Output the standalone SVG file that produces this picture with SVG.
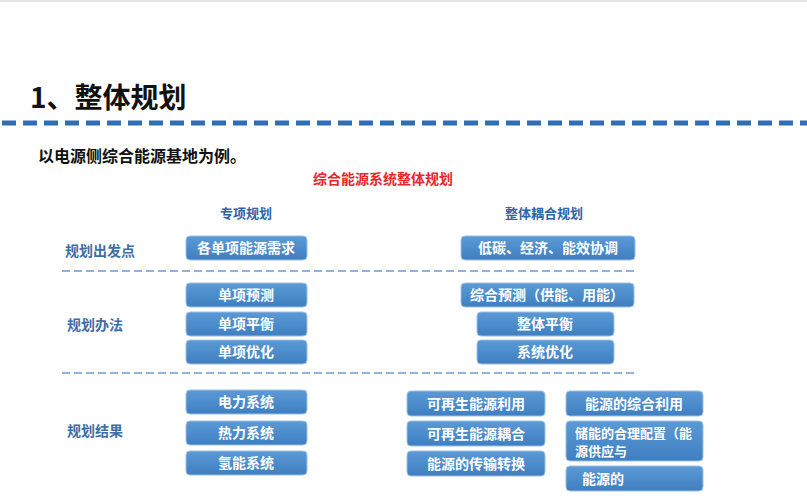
<svg xmlns="http://www.w3.org/2000/svg" width="807" height="500" viewBox="0 0 807 500">
<defs>
<linearGradient id="g" x1="0" y1="0" x2="0" y2="1"><stop offset="0" stop-color="#5b9ad6"/><stop offset="1" stop-color="#3f7fc0"/></linearGradient>
<style>
text{font-family:"Noto Sans CJK SC","Liberation Sans",sans-serif;font-weight:bold}
.b{fill:url(#g);stroke:#9cc0e6;stroke-width:1}
.t{fill:#fff;font-size:14px;text-anchor:middle}
.r{fill:#3d6ea8;font-size:14px}
.h{fill:#2e64a8;font-size:13px;text-anchor:middle}
.sep{stroke:#8fb4e0;stroke-width:2;stroke-dasharray:8 4}
</style>
</defs>
<rect width="807" height="500" fill="#fff"/>
<line x1="0" y1="1" x2="807" y2="1" stroke="#ccc"/>
<text x="30" y="108" font-size="28" fill="#111">1、整体规划</text>
<line x1="2" y1="123" x2="807" y2="123" stroke="#2f6db5" stroke-width="5" stroke-dasharray="14 7"/>
<text x="38" y="162" font-size="16" fill="#111">以电源侧综合能源基地为例。</text>
<text x="383" y="184" font-size="14" fill="#e8262b" text-anchor="middle">综合能源系统整体规划</text>
<text class="h" x="246" y="218">专项规划</text>
<text class="h" x="544" y="218">整体耦合规划</text>
<text class="r" x="65" y="256">规划出发点</text>
<text class="r" x="67" y="330">规划办法</text>
<text class="r" x="67" y="436">规划结果</text>
<g id="connectors">
<line class="sep" x1="62" y1="271" x2="636" y2="271"/>
<line class="sep" x1="62" y1="373" x2="636" y2="373"/>
</g>
<g id="n1"><rect class="b" x="186" y="236" width="121" height="24" rx="4"/><text class="t" x="246" y="253">各单项能源需求</text></g>
<g id="n2"><rect class="b" x="186" y="283" width="121" height="24" rx="4"/><text class="t" x="246" y="300">单项预测</text></g>
<g id="n3"><rect class="b" x="186" y="312" width="121" height="24" rx="4"/><text class="t" x="246" y="329">单项平衡</text></g>
<g id="n4"><rect class="b" x="186" y="340" width="121" height="24" rx="4"/><text class="t" x="246" y="357">单项优化</text></g>
<g id="n5"><rect class="b" x="461" y="236" width="174" height="24" rx="4"/><text class="t" x="548" y="253">低碳、经济、能效协调</text></g>
<g id="n6"><rect class="b" x="461" y="283" width="173" height="24" rx="4"/><text class="t" x="547" y="300">综合预测（供能、用能）</text></g>
<g id="n7"><rect class="b" x="477" y="312" width="137" height="24" rx="4"/><text class="t" x="545" y="329">整体平衡</text></g>
<g id="n8"><rect class="b" x="477" y="340" width="137" height="24" rx="4"/><text class="t" x="545" y="357">系统优化</text></g>
<g id="n9"><rect class="b" x="186" y="390" width="121" height="24" rx="4"/><text class="t" x="246" y="407">电力系统</text></g>
<g id="n10"><rect class="b" x="186" y="421" width="121" height="24" rx="4"/><text class="t" x="246" y="438">热力系统</text></g>
<g id="n11"><rect class="b" x="186" y="451" width="121" height="24" rx="4"/><text class="t" x="246" y="468">氢能系统</text></g>
<g id="n12"><rect class="b" x="407" y="391" width="138" height="25" rx="4"/><text class="t" x="476" y="409">可再生能源利用</text></g>
<g id="n13"><rect class="b" x="407" y="421" width="138" height="25" rx="4"/><text class="t" x="476" y="439">可再生能源耦合</text></g>
<g id="n14"><rect class="b" x="407" y="451" width="138" height="25" rx="4"/><text class="t" x="476" y="469">能源的传输转换</text></g>
<g id="n15"><rect class="b" x="566" y="391" width="137" height="25" rx="4"/><text class="t" x="634" y="409">能源的综合利用</text></g>
<g id="n16"><rect class="b" x="566" y="421" width="137" height="40" rx="4"/><text x="575" y="438" fill="#fff" font-size="13">储能的合理配置（能</text><text x="575" y="456" fill="#fff" font-size="13">源供应与</text></g>
<g id="n17"><rect class="b" x="566" y="466" width="137" height="25" rx="4"/><text x="582" y="484" fill="#fff" font-size="14">能源的</text></g>
</svg>
